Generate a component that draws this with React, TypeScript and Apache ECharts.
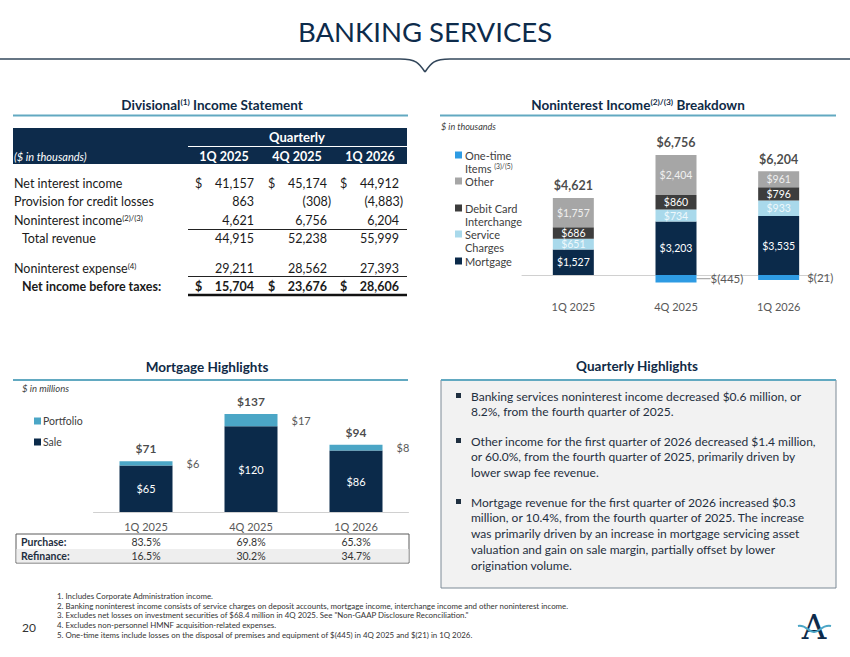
import React, { useEffect, useRef } from 'react';
import * as echarts from 'echarts';

const FONT = 'Lato, "Open Sans", sans-serif';
const NAVY = '#0d2b4b';
const TEXT = '#1a1a1a';
const TEAL_LINE = '#62a9c1';
const GREY_TEXT = '#595959';

// ---------- Income statement ----------
const quarters = ['1Q 2025', '4Q 2025', '1Q 2026'];
const netInterestIncome = [41157, 45174, 44912];
const provisionForCreditLosses = [863, -308, -4883];
const noninterestIncome = [4621, 6756, 6204];
const totalRevenue = [44915, 52238, 55999];
const noninterestExpense = [29211, 28562, 27393];
const netIncomeBeforeTaxes = [15704, 23676, 28606];

// ---------- Noninterest income breakdown ($ thousands) ----------
const mortgageIncome = [1527, 3203, 3535];
const serviceCharges = [651, 734, 933];
const debitCardInterchange = [686, 860, 796];
const otherIncome = [1757, 2404, 961];
const oneTimeItems: (number | null)[] = [null, -445, -21];
const noninterestTotals = [4621, 6756, 6204];

// ---------- Mortgage highlights ($ millions) ----------
const saleVolume = [65, 120, 86];
const portfolioVolume = [6, 17, 8];
const mortgageTotals = [71, 137, 94];
const purchasePct = ['83.5%', '69.8%', '65.3%'];
const refinancePct = ['16.5%', '30.2%', '34.7%'];

// ---------- Texts ----------
const highlightBullets = [
  ['Banking services noninterest income decreased $0.6 million, or', '8.2%, from the fourth quarter of 2025.'],
  [
    'Other income for the first quarter of 2026 decreased $1.4 million,',
    'or 60.0%, from the fourth quarter of 2025, primarily driven by',
    'lower swap fee revenue.',
  ],
  [
    'Mortgage revenue for the first quarter of 2026 increased $0.3',
    'million, or 10.4%, from the fourth quarter of 2025. The increase',
    'was primarily driven by an increase in mortgage servicing asset',
    'valuation and gain on sale margin, partially offset by lower',
    'origination volume.',
  ],
];
const footnotes = [
  '1. Includes Corporate Administration income.',
  '2. Banking noninterest income consists of service charges on deposit accounts, mortgage income, interchange income and other noninterest income.',
  '3. Excludes net losses on investment securities of $68.4 million in 4Q 2025. See "Non-GAAP Disclosure Reconciliation."',
  '4. Excludes non-personnel HMNF acquisition-related expenses.',
  '5. One-time items include losses on the disposal of premises and equipment of $(445) in 4Q 2025 and $(21) in 1Q 2026.',
];

const C_MORTGAGE = '#0b2a4a';
const C_SERVICE = '#a9d9eb';
const C_DEBIT = '#3d3d3d';
const C_OTHER = '#a6a6a6';
const C_ONETIME = '#2e9be3';
const C_SALE = '#0b2a4a';
const C_PORTFOLIO = '#4ba6c6';

const fmtNum = (v: number) => Math.abs(v).toLocaleString('en-US');
const fmtDollar = (v: number) => '$' + fmtNum(v);

function txt(x: number, y: number, text: string, o: any = {}) {
  return {
    type: 'text',
    x,
    y,
    silent: true,
    z: 10,
    style: {
      text,
      fill: o.fill || TEXT,
      fontFamily: FONT,
      fontSize: o.size || 12,
      fontWeight: o.weight || 'normal',
      fontStyle: o.italic ? 'italic' : 'normal',
      align: o.align || 'left',
      verticalAlign: 'middle',
      textAlign: o.align || 'left',
      textVerticalAlign: 'middle',
      rich: o.rich,
    },
  };
}

function line(x1: number, y1: number, x2: number, y2: number, stroke: string, lineWidth = 1) {
  return { type: 'line', silent: true, z: 5, shape: { x1, y1, x2, y2 }, style: { stroke, lineWidth } };
}

function rect(x: number, y: number, width: number, height: number, style: any, z = 1) {
  return { type: 'rect', silent: true, z, shape: { x, y, width, height }, style };
}

function supRich(size: number, weight: string, fill: string) {
  return {
    m: { fontFamily: FONT, fontSize: size, fontWeight: weight, fill, verticalAlign: 'bottom' },
    s: { fontFamily: FONT, fontSize: size * 0.62, fontWeight: weight, fill, verticalAlign: 'top' },
  };
}

function buildGraphics() {
  const g: any[] = [];

  // ---- Header ----
  g.push(txt(425, 31, 'BANKING SERVICES', { size: 27.5, fill: NAVY, align: 'center' }));
  g.push({ type: 'polyline', silent: true, shape: { points: [[0, 59], [400, 59]] }, style: { stroke: '#33475b', lineWidth: 1.6, fill: null } });
  g.push({ type: 'polyline', silent: true, shape: { points: [[450, 59], [850, 59]] }, style: { stroke: '#33475b', lineWidth: 1.6, fill: null } });
  g.push({ type: 'bezierCurve', silent: true, shape: { x1: 400, y1: 59, cpx1: 416, cpy1: 59, cpx2: 419, cpy2: 63, x2: 425, y2: 72 }, style: { stroke: '#33475b', lineWidth: 1.6, fill: null } });
  g.push({ type: 'bezierCurve', silent: true, shape: { x1: 425, y1: 72, cpx1: 431, cpy1: 63, cpx2: 434, cpy2: 59, x2: 450, y2: 59 }, style: { stroke: '#33475b', lineWidth: 1.6, fill: null } });

  // ---- Section titles ----
  const secRich = supRich(13.5, 'bold', '#0f2a46');
  g.push(txt(212, 105, '{m|Divisional}{s|(1)}{m| Income Statement}', { align: 'center', rich: secRich, size: 13.5, weight: 'bold' }));
  g.push(line(13, 115.5, 408, 115.5, TEAL_LINE, 2));
  g.push(txt(638, 105, '{m|Noninterest Income}{s|(2)/(3)}{m| Breakdown}', { align: 'center', rich: secRich, size: 13.5, weight: 'bold' }));
  g.push(line(440, 115.5, 836, 115.5, TEAL_LINE, 2));
  g.push(txt(207, 367, 'Mortgage Highlights', { align: 'center', size: 13.5, weight: 'bold', fill: '#0f2a46' }));
  g.push(line(13, 380, 408, 380, TEAL_LINE, 2));
  g.push(txt(637, 366, 'Quarterly Highlights', { align: 'center', size: 13.5, weight: 'bold', fill: '#0f2a46' }));

  // ---- Income statement table ----
  g.push(rect(13, 128, 394, 36, { fill: NAVY }));
  g.push(txt(297, 137, 'Quarterly', { align: 'center', size: 13, weight: 'bold', fill: '#ffffff' }));
  g.push(line(188, 146.5, 407, 146.5, '#ffffff', 1));
  g.push(txt(14, 156, '($ in thousands)', { size: 11, italic: true, fill: '#ffffff' }));
  const colCenters = [224, 297, 370];
  const colRight = [254, 327, 399];
  const colDollar = [195, 268, 340];
  quarters.forEach((q, i) => g.push(txt(colCenters[i], 156, q, { align: 'center', size: 12.5, weight: 'bold', fill: '#ffffff' })));

  const rows = [
    { label: 'Net interest income', sup: '', vals: netInterestIncome, dollar: true, bold: false, indent: 14, y: 183 },
    { label: 'Provision for credit losses', sup: '', vals: provisionForCreditLosses, dollar: false, bold: false, indent: 14, y: 201 },
    { label: 'Noninterest income', sup: '(2)/(3)', vals: noninterestIncome, dollar: false, bold: false, indent: 14, y: 220 },
    { label: 'Total revenue', sup: '', vals: totalRevenue, dollar: false, bold: false, indent: 22, y: 238 },
    { label: 'Noninterest expense', sup: '(4)', vals: noninterestExpense, dollar: false, bold: false, indent: 14, y: 268 },
    { label: 'Net income before taxes:', sup: '', vals: netIncomeBeforeTaxes, dollar: true, bold: true, indent: 22, y: 286 },
  ];
  rows.forEach((r) => {
    const w = r.bold ? 'bold' : 'normal';
    if (r.sup) {
      g.push(txt(r.indent, r.y, `{m|${r.label}}{s|${r.sup}}`, { rich: supRich(12.5, w, TEXT), size: 12.5 }));
    } else {
      g.push(txt(r.indent, r.y, r.label, { size: 12.5, weight: w }));
    }
    r.vals.forEach((v, i) => {
      if (r.dollar) g.push(txt(colDollar[i], r.y, '$', { size: 12.5, weight: w }));
      const neg = v < 0;
      g.push(txt(colRight[i] + (neg ? 4 : 0), r.y, neg ? `(${fmtNum(v)})` : fmtNum(v), { size: 12.5, weight: w, align: 'right' }));
    });
  });
  g.push(line(188, 229.5, 407, 229.5, '#222', 1));
  g.push(line(188, 276.5, 407, 276.5, '#222', 1));
  g.push(line(188, 295, 407, 295, '#111', 2.5));

  // ---- Noninterest legend ----
  g.push(txt(441, 126, '$ in thousands', { size: 9, italic: true, fill: '#404040' }));
  const niLegend = [
    { color: C_ONETIME, lines: ['One-time', '{m|Items }{s|(3)/(5)}'], y: 155 },
    { color: C_OTHER, lines: ['Other'], y: 181 },
    { color: C_DEBIT, lines: ['Debit Card', 'Interchange'], y: 208 },
    { color: C_SERVICE, lines: ['Service', 'Charges'], y: 234 },
    { color: C_MORTGAGE, lines: ['Mortgage'], y: 261 },
  ];
  niLegend.forEach((it) => {
    g.push(rect(455, it.y - 3.5, 7, 7, { fill: it.color }, 10));
    it.lines.forEach((l, j) => {
      const y = it.y + j * 13;
      if (l.startsWith('{')) g.push(txt(465, y, l, { size: 11, rich: supRich(11, 'normal', '#404040') }));
      else g.push(txt(465, y, l, { size: 11, fill: '#404040' }));
    });
  });

  // ---- Mortgage legend + table ----
  g.push(txt(22, 388, '$ in millions', { size: 9.5, italic: true, fill: '#404040' }));
  g.push(rect(34, 417.5, 7, 7, { fill: C_PORTFOLIO }, 10));
  g.push(txt(43, 421, 'Portfolio', { size: 10.5, fill: '#404040' }));
  g.push(rect(34, 438.5, 7, 7, { fill: C_SALE }, 10));
  g.push(txt(43, 442, 'Sale', { size: 10.5, fill: '#404040' }));

  g.push(rect(16, 534, 393, 29, { fill: '#ffffff', stroke: '#5a5a5a', lineWidth: 1 }));
  g.push(rect(16.5, 549, 392, 13.5, { fill: '#eeeeee' }, 2));
  g.push(txt(21, 542, 'Purchase:', { size: 10.5, weight: 'bold', fill: '#1f2f40' }));
  g.push(txt(21, 556, 'Refinance:', { size: 10.5, weight: 'bold', fill: '#1f2f40' }));
  const mCenters = [146, 251, 356];
  purchasePct.forEach((p, i) => g.push(txt(mCenters[i], 542, p, { size: 10.5, align: 'center', fill: '#333' })));
  refinancePct.forEach((p, i) => g.push(txt(mCenters[i], 556, p, { size: 10.5, align: 'center', fill: '#333' })));

  // ---- Quarterly highlights box ----
  g.push(rect(441, 380, 395, 208, { fill: '#f2f2f2', stroke: '#7d8a96', lineWidth: 1 }));
  g.push(line(441, 380, 836, 380, TEAL_LINE, 2));
  const bulletStarts = [396, 441, 502];
  highlightBullets.forEach((lines, bi) => {
    const y0 = bulletStarts[bi];
    g.push(rect(456, y0 - 3, 5, 5, { fill: '#1f2f40' }, 10));
    lines.forEach((l, li) => g.push(txt(471, y0 + li * 15.8, l, { size: 12, fill: '#1f2f40' })));
  });

  // ---- Footnotes ----
  footnotes.forEach((f, i) => g.push(txt(57, 596 + i * 9.7, f, { size: 7.9, fill: '#333' })));
  g.push(txt(22, 627, '20', { size: 12, fill: '#333' }));

  // ---- Logo ----
  g.push({ type: 'text', silent: true, x: 814, y: 627, z: 10, style: { text: 'A', fill: NAVY, fontFamily: '"DejaVu Serif", "Liberation Serif", serif', fontSize: 34, align: 'center', verticalAlign: 'middle', textAlign: 'center', textVerticalAlign: 'middle' } });
  g.push({ type: 'bezierCurve', silent: true, z: 11, shape: { x1: 798, y1: 626, cpx1: 806, cpy1: 624, cpx2: 809, cpy2: 633, x2: 814, y2: 632 }, style: { stroke: C_PORTFOLIO, lineWidth: 2, fill: null } });
  g.push({ type: 'bezierCurve', silent: true, z: 11, shape: { x1: 814, y1: 632, cpx1: 819, cpy1: 633, cpx2: 822, cpy2: 624, x2: 831, y2: 626 }, style: { stroke: C_PORTFOLIO, lineWidth: 2, fill: null } });

  return g;
}

function buildOption() {
  const labelBase = { fontFamily: FONT, fontSize: 10.5, fontWeight: 'normal', lineHeight: 10 };
  const niBar = (name: string, data: number[], color: string, labelColor: string) => ({
    type: 'bar',
    name,
    xAxisIndex: 0,
    yAxisIndex: 0,
    stack: 'ni',
    data,
    barWidth: 41,
    itemStyle: { color },
    label: { show: true, position: 'inside', color: labelColor, ...labelBase, formatter: (p: any) => fmtDollar(p.value) },
  });
  const niTops = quarters.map((_, i) => mortgageIncome[i] + serviceCharges[i] + debitCardInterchange[i] + otherIncome[i]);

  return {
    animation: false,
    backgroundColor: '#ffffff',
    textStyle: { fontFamily: FONT },
    grid: [
      { left: 522, top: 141.67, width: 308, height: 150, containLabel: false, outerBoundsMode: 'none' },
      { left: 93.5, top: 397.6, width: 315, height: 114.4, containLabel: false, outerBoundsMode: 'none' },
    ],
    xAxis: [
      {
        type: 'category', gridIndex: 0, data: quarters,
        axisLine: { show: true, onZero: true, lineStyle: { color: '#d0d0d0', width: 1 } },
        axisTick: { show: false },
        axisLabel: { color: GREY_TEXT, fontSize: 11, margin: 9, fontFamily: FONT },
        splitLine: { show: false },
      },
      {
        type: 'category', gridIndex: 1, data: quarters,
        axisLine: { show: true, lineStyle: { color: '#d0d0d0', width: 1 } },
        axisTick: { show: false },
        axisLabel: { color: GREY_TEXT, fontSize: 11, margin: 9, fontFamily: FONT },
        splitLine: { show: false },
      },
    ],
    yAxis: [
      { type: 'value', gridIndex: 0, min: -1000, max: 8000, show: false, splitLine: { show: false } },
      { type: 'value', gridIndex: 1, min: 0, max: 160, show: false, splitLine: { show: false } },
    ],
    series: [
      niBar('Mortgage', mortgageIncome, C_MORTGAGE, '#ffffff'),
      niBar('Service Charges', serviceCharges, C_SERVICE, '#eef8fc'),
      niBar('Debit Card Interchange', debitCardInterchange, C_DEBIT, '#ffffff'),
      niBar('Other', otherIncome, C_OTHER, '#f0f0f0'),
      {
        type: 'bar', name: 'One-time Items', xAxisIndex: 0, yAxisIndex: 0, stack: 'ni',
        data: oneTimeItems.map((v, i) =>
          v == null ? '-' : i === 2 ? { value: v, labelLine: { show: false } } : { value: v }
        ),
        barWidth: 41, barMinHeight: 5,
        itemStyle: { color: C_ONETIME },
        label: {
          show: true, position: 'right', distance: 8, color: GREY_TEXT, fontFamily: FONT, fontSize: 11.5,
          formatter: (p: any) => `$(${fmtNum(p.value)})`,
        },
        labelLine: { show: true, lineStyle: { color: '#9a9a9a', width: 1 } },
        labelLayout: (p: any) => (p.dataIndex === 1 ? { dx: 6 } : {}),
      },
      {
        type: 'scatter', xAxisIndex: 0, yAxisIndex: 0, data: niTops, symbolSize: 1, silent: true,
        itemStyle: { color: 'rgba(0,0,0,0)' },
        label: {
          show: true, position: 'top', distance: 5, color: TEXT, fontFamily: FONT, fontSize: 12.5, fontWeight: 'bold',
          formatter: (p: any) => fmtDollar(noninterestTotals[p.dataIndex]),
        },
      },
      {
        type: 'bar', name: 'Sale', xAxisIndex: 1, yAxisIndex: 1, stack: 'mort', data: saleVolume, barWidth: 53,
        itemStyle: { color: C_SALE },
        label: { show: true, position: 'inside', color: '#ffffff', ...labelBase, fontSize: 11, formatter: (p: any) => fmtDollar(p.value) },
      },
      {
        type: 'bar', name: 'Portfolio', xAxisIndex: 1, yAxisIndex: 1, stack: 'mort', data: portfolioVolume, barWidth: 53,
        itemStyle: { color: C_PORTFOLIO },
        label: { show: true, position: 'right', distance: 14, color: GREY_TEXT, ...labelBase, fontSize: 11, formatter: (p: any) => fmtDollar(p.value) },
      },
      {
        type: 'scatter', xAxisIndex: 1, yAxisIndex: 1, data: mortgageTotals, symbolSize: 1, silent: true,
        itemStyle: { color: 'rgba(0,0,0,0)' },
        label: {
          show: true, position: 'top', distance: 6, color: TEXT, fontFamily: FONT, fontSize: 12, fontWeight: 'bold',
          formatter: (p: any) => fmtDollar(p.value),
        },
      },
    ],
    graphic: { elements: buildGraphics() },
  };
}

export default function App() {
  const ref = useRef<HTMLDivElement>(null);
  useEffect(() => {
    if (!ref.current) return;
    const chart = echarts.init(ref.current, undefined, { renderer: 'svg' });
    chart.setOption(buildOption() as any);
    return () => chart.dispose();
  }, []);
  return (
    <div
      ref={ref}
      style={{ position: 'absolute', left: 0, top: 0, width: 850, height: 657, background: '#ffffff' }}
    />
  );
}
